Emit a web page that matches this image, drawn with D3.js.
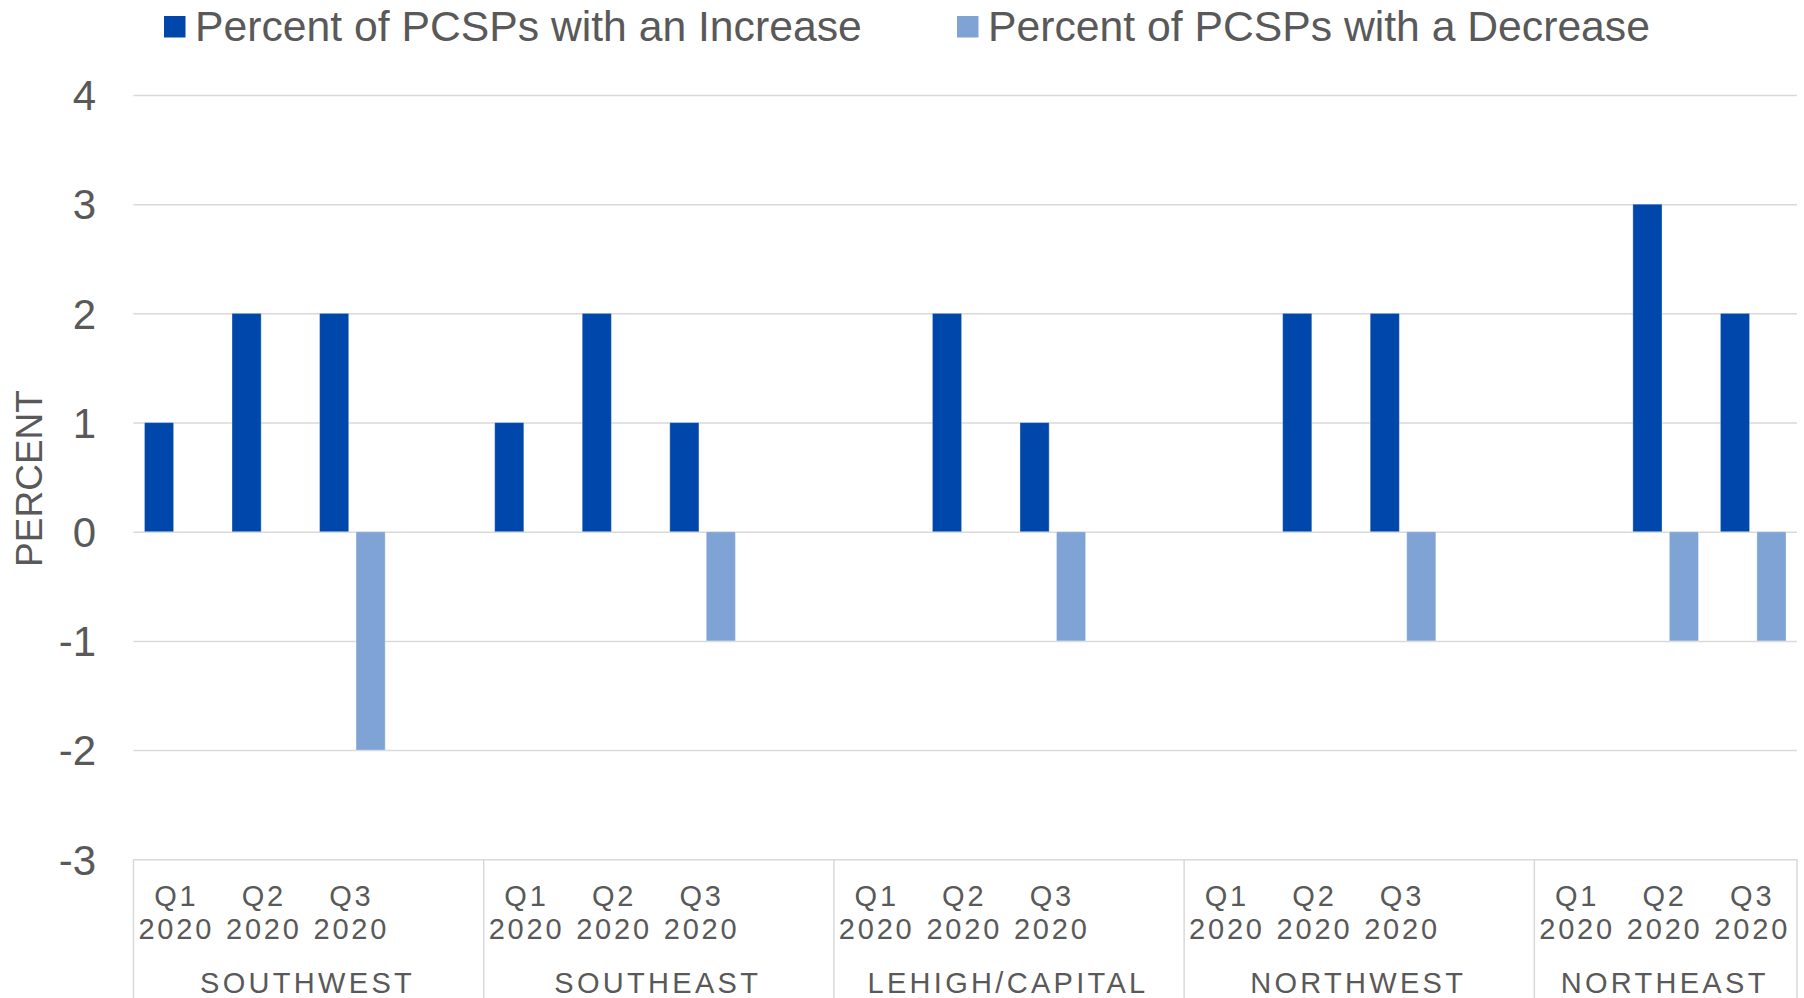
<!DOCTYPE html>
<html>
<head>
<meta charset="utf-8">
<script src="https://cdn.jsdelivr.net/npm/d3@7"></script>
<style>
  body { margin: 0; background: #fff; }
  svg text { font-family: "Liberation Sans", Arial, sans-serif; fill: #595959; }
</style>
</head>
<body>
<svg class="chart" width="1804" height="998"></svg>
<script>
// data
const regions = ["SOUTHWEST", "SOUTHEAST", "LEHIGH/CAPITAL", "NORTHWEST", "NORTHEAST"];
const quarters = ["Q1 2020", "Q2 2020", "Q3 2020"];
const seriesNames = ["Percent of PCSPs with an Increase", "Percent of PCSPs with a Decrease"];
const increase = [
	[1, 2, 2],
	[1, 2, 1],
	[0, 2, 1],
	[0, 2, 2],
	[0, 3, 2]
];
const decrease = [
	[0, 0, -2],
	[0, 0, -1],
	[0, 0, -1],
	[0, 0, -1],
	[0, -1, -1]
];
const yTicks = [-3, -2, -1, 0, 1, 2, 3, 4];
const colors = ["#0047ab", "#80a3d6"];

var svg = d3.select(".chart");
var width = +svg.attr("width");
var height = +svg.attr("height");

let margin = {left: 133.5, right: 7, top: 95, bottom: 138.7};
let innerWidth = width - margin.left - margin.right;
let innerHeight = height - margin.top - margin.bottom;

// slot keys: every region but the last one has an empty 4th slot
let slots = [];
regions.forEach((r, i) => {
	quarters.forEach(q => slots.push(r + "|" + q));
	if (i < regions.length - 1) slots.push(r + "|");
});

var xScale = d3.scaleBand()
	.domain(slots)
	.range([0, innerWidth])
	.padding(0);

var xInner = d3.scaleBand()
	.domain([0, 1])
	.range([0, xScale.bandwidth()])
	.paddingInner(0.2)
	.paddingOuter(0.3);

var yScale = d3.scaleLinear()
	.domain([d3.min(yTicks), d3.max(yTicks)])
	.range([innerHeight, 0]);

let g = svg.append("g")
	.attr("transform", `translate(${margin.left}, ${margin.top})`);

// gridlines + tick labels
let yAxis = g.append("g")
	.call(d3.axisLeft(yScale).tickValues(yTicks).tickSize(-innerWidth).tickPadding(37.5).tickFormat(d => String(d)));
yAxis.select(".domain").remove();
yAxis.selectAll("line").attr("stroke", "#d9d9d9").attr("stroke-width", 1.5);
yAxis.selectAll("text")
	.attr("fill", "#595959")
	.attr("dy", "0.35em")
	.style("font-size", "42px")
	.style("font-family", "'Liberation Sans', Arial, sans-serif");

// bars
let bars = [];
regions.forEach((r, i) => {
	quarters.forEach((q, j) => {
		bars.push({slot: r + "|" + q, s: 0, v: increase[i][j]});
		bars.push({slot: r + "|" + q, s: 1, v: decrease[i][j]});
	});
});

g.selectAll("rect.bar")
	.data(bars.filter(d => d.v !== 0))
	.enter().append("rect")
	.attr("class", "bar")
	.attr("x", d => xScale(d.slot) + xInner(d.s))
	.attr("width", xInner.bandwidth())
	.attr("y", d => yScale(Math.max(0, d.v)))
	.attr("height", d => Math.abs(yScale(d.v) - yScale(0)))
	.attr("fill", d => colors[d.s])
	.attr("stroke", "rgba(255,255,255,0.35)")
	.attr("stroke-width", 1);

// category axis: group separators
let groupEdges = [0];
regions.forEach((r, i) => {
	let n = i < regions.length - 1 ? quarters.length + 1 : quarters.length;
	groupEdges.push(groupEdges[i] + n);
});
let step = xScale.step();

g.selectAll("line.sep")
	.data(groupEdges)
	.enter().append("line")
	.attr("class", "sep")
	.attr("x1", d => d * step)
	.attr("x2", d => d * step)
	.attr("y1", innerHeight)
	.attr("y2", innerHeight + margin.bottom)
	.attr("stroke", "#d9d9d9")
	.attr("stroke-width", 1.5);

// quarter labels
regions.forEach((r, i) => {
	quarters.forEach(q => {
		let cx = xScale(r + "|" + q) + xScale.bandwidth() / 2;
		let parts = q.split(" ");
		let t = g.append("text")
			.attr("text-anchor", "middle")
			.style("font-size", "29px")
			.style("letter-spacing", "2.8px");
		t.append("tspan").attr("x", cx - 1).attr("y", innerHeight + 46.7).text(parts[0]);
		t.append("tspan").attr("x", cx - 1).attr("y", innerHeight + 80).text(parts[1]);
	});
});

// region labels
g.selectAll("text.region")
	.data(regions)
	.enter().append("text")
	.attr("class", "region")
	.attr("text-anchor", "middle")
	.attr("x", (d, i) => (groupEdges[i] + groupEdges[i + 1]) / 2 * step - 1)
	.attr("y", innerHeight + 133.2)
	.style("font-size", "29px")
	.style("letter-spacing", "3.3px")
	.text(d => d);

// y label
svg.append("text")
	.attr("transform", "translate(41.7, 478.5) rotate(-90)")
	.attr("text-anchor", "middle")
	.style("font-size", "37px")
	.text("PERCENT");

// legend
let legendX = [164, 957];
seriesNames.forEach((name, i) => {
	svg.append("rect")
		.attr("x", legendX[i])
		.attr("y", 16)
		.attr("width", 21.5)
		.attr("height", 21.5)
		.attr("fill", colors[i]);
	svg.append("text")
		.attr("x", legendX[i] + 31)
		.attr("y", 40.7)
		.style("font-size", "42.7px")
		.text(name);
});
</script>
</body>
</html>
